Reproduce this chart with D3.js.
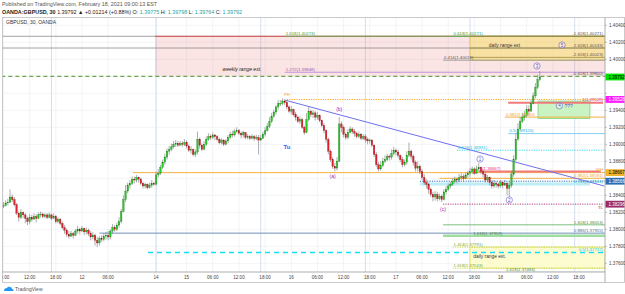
<!DOCTYPE html>
<html>
<head>
<meta charset="utf-8">
<script src="https://d3js.org/d3.v7.min.js"></script>
<style>
body { margin:0; background:#fff; }
svg text { font-family: "Liberation Sans", Arial, sans-serif; }
</style>
</head>
<body>
<script>
// ---- chart values ----
var published = "Published on TradingView.com, February 18, 2021 09:00:13 EST";
var symbolLine = ["OANDA:GBPUSD, 30 ", "1.39792 \u25B2 +0.01214 (+0.88%) ", "O:", " 1.39775 ", "H:", " 1.39798 ", "L:", " 1.39764 ", "C:", " 1.39792"];
var legend = "GBPUSD, 30, OANDA";

var firstOpen = 1.3827;
var closes = [1.3828,1.3831,1.3832,1.3838,1.3835,1.3829,1.3819,1.3814,1.3820,1.3817,
1.3813,1.3809,1.3814,1.3812,1.3815,1.3813,1.3817,1.3818,1.3815,1.3817,
1.3814,1.3817,1.3813,1.3815,1.3809,1.3812,1.3807,1.3802,1.3799,1.3794,
1.3792,1.3795,1.3793,1.3798,1.3800,1.3798,1.3801,1.3797,1.3799,1.3795,
1.3791,1.3793,1.3787,1.3784,1.3789,1.3788,1.3792,1.3793,1.3791,1.3798,
1.3802,1.3800,1.3805,1.3809,1.3821,1.3835,1.3845,1.3852,1.3854,1.3859,
1.3858,1.3861,1.3859,1.3854,1.3851,1.3853,1.3849,1.3852,1.3854,1.3853,
1.3864,1.3866,1.3873,1.3879,1.3885,1.3892,1.3894,1.3897,1.3900,1.3901,
1.3899,1.3901,1.3900,1.3902,1.3898,1.3893,1.3894,1.3888,1.3891,1.3906,
1.3899,1.3894,1.3900,1.3906,1.3909,1.3908,1.3911,1.3909,1.3906,1.3902,
1.3905,1.3900,1.3904,1.3908,1.3912,1.3911,1.3915,1.3916,1.3913,1.3911,
1.3914,1.3908,1.3909,1.3907,1.3909,1.3907,1.3908,1.3905,1.3907,1.3912,
1.3916,1.3921,1.3927,1.3933,1.3938,1.3944,1.3948,1.3948,1.3951,1.3949,
1.3944,1.3939,1.3941,1.3935,1.3932,1.3927,1.3929,1.3920,1.3914,1.3929,
1.3939,1.3935,1.3937,1.3932,1.3934,1.3928,1.3922,1.3916,1.3906,1.3892,
1.3882,1.3874,1.3872,1.3880,1.3924,1.3920,1.3912,1.3908,1.3914,1.3918,
1.3915,1.3913,1.3909,1.3912,1.3907,1.3909,1.3906,1.3904,1.3905,1.3899,
1.3888,1.3876,1.3871,1.3875,1.3880,1.3882,1.3886,1.3885,1.3889,1.3893,
1.3891,1.3887,1.3882,1.3876,1.3879,1.3887,1.3892,1.3886,1.3879,1.3872,
1.3874,1.3868,1.3861,1.3855,1.3853,1.3847,1.3841,1.3838,1.3841,1.3836,
1.3839,1.3835,1.3844,1.3847,1.3851,1.3853,1.3856,1.3859,1.3858,1.3861,
1.3862,1.3860,1.3864,1.3866,1.3868,1.3871,1.3866,1.3871,1.3873,1.3868,
1.3865,1.3858,1.3861,1.3855,1.3851,1.3854,1.3853,1.3851,1.3855,1.3852,
1.3854,1.3848,1.3852,1.3865,1.3882,1.3906,1.3918,1.3927,1.3932,1.3934,
1.3941,1.3939,1.3948,1.3957,1.3967,1.3976,1.39792];
var highs = [1.3832,1.3834,1.3836,1.3847,1.3841,1.3838,1.3831,1.3821,1.3824,1.3821,
1.3819,1.3815,1.3818,1.3817,1.3819,1.3818,1.3820,1.3821,1.3820,1.3819,
1.3819,1.3820,1.3818,1.3819,1.3817,1.3814,1.3813,1.3809,1.3805,1.3801,
1.3798,1.3798,1.3797,1.3800,1.3804,1.3802,1.3804,1.3802,1.3802,1.3801,
1.3798,1.3797,1.3795,1.3791,1.3792,1.3793,1.3795,1.3797,1.3798,1.3800,
1.3806,1.3805,1.3808,1.3814,1.3824,1.3840,1.3852,1.3855,1.3858,1.3862,
1.3862,1.3864,1.3862,1.3861,1.3856,1.3855,1.3854,1.3855,1.3858,1.3856,
1.3868,1.3871,1.3876,1.3882,1.3889,1.3895,1.3898,1.3901,1.3904,1.3905,
1.3904,1.3904,1.3904,1.3906,1.3905,1.3900,1.3898,1.3895,1.3894,1.3915,
1.3908,1.3901,1.3904,1.3909,1.3913,1.3912,1.3914,1.3912,1.3911,1.3908,
1.3907,1.3906,1.3906,1.3911,1.3915,1.3916,1.3918,1.3920,1.3918,1.3915,
1.3916,1.3914,1.3912,1.3911,1.3912,1.3911,1.3911,1.3911,1.3911,1.3915,
1.3920,1.3925,1.3932,1.3937,1.3941,1.3946,1.3952,1.3952,1.3954,1.3953,
1.3952,1.3946,1.3945,1.3942,1.3938,1.3934,1.3933,1.3931,1.3922,1.3937,
1.3944,1.3941,1.3940,1.3939,1.3938,1.3935,1.3929,1.3925,1.3918,1.3908,
1.3894,1.3885,1.3878,1.3885,1.3932,1.3927,1.3922,1.3914,1.3918,1.3921,
1.3920,1.3918,1.3915,1.3915,1.3913,1.3912,1.3912,1.3908,1.3907,1.3906,
1.3900,1.3891,1.3879,1.3880,1.3884,1.3887,1.3889,1.3888,1.3894,1.3897,
1.3895,1.3894,1.3888,1.3885,1.3882,1.3892,1.3902,1.3894,1.3888,1.3881,
1.3880,1.3876,1.3871,1.3865,1.3859,1.3855,1.3849,1.3844,1.3845,1.3844,
1.3842,1.3841,1.3847,1.3851,1.3854,1.3856,1.3860,1.3862,1.3861,1.3865,
1.3866,1.3865,1.3867,1.3869,1.3872,1.3874,1.3873,1.3875,1.3878,1.3874,
1.3871,1.3867,1.3864,1.3862,1.3858,1.3858,1.3856,1.3855,1.3858,1.3856,
1.3858,1.3855,1.3856,1.3868,1.3887,1.3913,1.3925,1.3932,1.3937,1.3939,
1.3946,1.3946,1.3953,1.3961,1.3972,1.3982,1.3986];
var lows = [1.3825,1.3827,1.3828,1.3831,1.3832,1.3827,1.3817,1.3809,1.3812,1.3813,
1.3807,1.3805,1.3806,1.3809,1.3811,1.3808,1.3812,1.3814,1.3813,1.3813,
1.3812,1.3813,1.3811,1.3812,1.3807,1.3807,1.3805,1.3800,1.3795,1.3791,
1.3789,1.3791,1.3789,1.3792,1.3795,1.3794,1.3797,1.3793,1.3794,1.3792,
1.3787,1.3788,1.3781,1.3779,1.3781,1.3785,1.3786,1.3788,1.3787,1.3788,
1.3795,1.3797,1.3798,1.3802,1.3807,1.3820,1.3832,1.3842,1.3848,1.3852,
1.3854,1.3855,1.3855,1.3852,1.3848,1.3848,1.3847,1.3848,1.3849,1.3851,
1.3852,1.3861,1.3864,1.3871,1.3876,1.3882,1.3888,1.3892,1.3895,1.3897,
1.3897,1.3898,1.3897,1.3898,1.3895,1.3891,1.3889,1.3886,1.3885,1.3888,
1.3895,1.3892,1.3893,1.3898,1.3904,1.3905,1.3906,1.3905,1.3904,1.3900,
1.3900,1.3898,1.3899,1.3901,1.3906,1.3908,1.3909,1.3913,1.3911,1.3907,
1.3908,1.3906,1.3906,1.3905,1.3906,1.3904,1.3905,1.3888,1.3904,1.3906,
1.3909,1.3915,1.3919,1.3925,1.3931,1.3935,1.3941,1.3945,1.3946,1.3946,
1.3941,1.3937,1.3935,1.3933,1.3928,1.3925,1.3924,1.3918,1.3911,1.3913,
1.3927,1.3932,1.3931,1.3928,1.3929,1.3926,1.3920,1.3913,1.3902,1.3888,
1.3879,1.3871,1.3868,1.3869,1.3879,1.3914,1.3908,1.3905,1.3906,1.3913,
1.3912,1.3909,1.3907,1.3907,1.3905,1.3905,1.3902,1.3900,1.3901,1.3897,
1.3885,1.3873,1.3868,1.3869,1.3873,1.3878,1.3880,1.3881,1.3882,1.3887,
1.3887,1.3884,1.3879,1.3873,1.3874,1.3876,1.3885,1.3882,1.3875,1.3868,
1.3868,1.3865,1.3858,1.3852,1.3848,1.3842,1.3838,1.3833,1.3834,1.3833,
1.3834,1.3832,1.3834,1.3841,1.3845,1.3848,1.3851,1.3854,1.3854,1.3855,
1.3858,1.3856,1.3859,1.3861,1.3862,1.3865,1.3864,1.3865,1.3868,1.3865,
1.3861,1.3855,1.3855,1.3852,1.3848,1.3849,1.3849,1.3848,1.3849,1.3848,
1.3851,1.3840,1.3838,1.3849,1.3862,1.3880,1.3904,1.3915,1.3925,1.3928,
1.3932,1.3934,1.3938,1.3947,1.3954,1.3965,1.3974];

// bar index -> time label
var timeTicks = [[0,"06:00"],[12,"12:00"],[24,"18:00"],[36,"12"],[48,"06:00"],[70,"14"],[84,"15"],
  [96,"06:00"],[108,"12:00"],[120,"18:00"],[132,"16"],[144,"06:00"],[156,"12:00"],[168,"18:00"],
  [180,"17"],[192,"06:00"],[204,"12:00"],[216,"18:00"],[228,"18"],[240,"06:00"],[252,"12:00"],[264,"18:00"]];
var sessionBreaks = [22, 70, 118, 166, 214, 262];
var priceTicks = [1.376,1.378,1.380,1.382,1.384,1.386,1.388,1.390,1.392,1.394,1.396,1.398,1.400,1.402,1.404];

// drawn levels: price, from bar, to bar, kind, labels
var levels = [
  {p:1.40271, from:-1, to:276, kind:"gray"},
  {p:1.40133, from:-1, to:276, kind:"gray"},
  {p:1.40271, from:69.5, to:276, kind:"red"},
  {p:1.40271, from:129, to:276, kind:"fibGreen", left:"1.618(1.40273)"},
  {p:1.39848, from:129, to:276, kind:"fibPurple", left:"1.272(1.39848)"},
  {p:1.39800, from:-1, to:276, kind:"greenDash", right:"-0.618(1.39800)"},
  {p:1.40271, from:214, to:276, kind:"olive", right:"-1.618(1.40271)"},
  {p:1.40271, from:206, to:214, kind:"fibGreen", left:"0.618(1.40271)"},
  {p:1.40133, from:214, to:276, kind:"olive", right:"2.618(1.40133)"},
  {p:1.40023, from:214, to:276, kind:"olive", right:"-2.618(1.40023)"},
  {p:1.39990, from:201.6, to:276, kind:"gray", left:"0.414(1.40013)"},
  {p:1.39528, from:130, to:276, kind:"orangeDot"},
  {p:1.39490, from:231.5, to:275, kind:"redThick", right:"1(1.39528)"},
  {p:1.39320, from:230, to:276, kind:"orange", left:"0.382(1.39320)"},
  {p:1.39126, from:231.5, to:276, kind:"cyan", left:"0.5(1.39126)"},
  {p:1.38931, from:208, to:276, kind:"cyanDot", left:"0.618(1.38931)"},
  {p:1.38667, from:59.4, to:276, kind:"orange", right:"WH"},
  {p:1.38680, from:218, to:274, kind:"redThick", left:"1(1.38667)"},
  {p:1.38600, from:200, to:276, kind:"orange", right:"0.382(1.38591)"},
  {p:1.38566, from:191, to:276, kind:"blueDot"},
  {p:1.38534, from:191, to:269, kind:"cyanBand", right:"0.786(1.38534)"},
  {p:1.38296, from:201.6, to:275, kind:"purpleDot", right:"TL"},
  {p:1.38053, from:201.6, to:276, kind:"green", right:"1.618(1.38053)"},
  {p:1.37955, from:44, to:276, kind:"steel", right:"0.886(1.37955)"},
  {p:1.37925, from:201.6, to:276, kind:"greenBand", left:"1.618(1.37959)", at:215},
  {p:1.37791, from:206, to:276, kind:"yellowDot", left:"1.414(1.37791)"},
  {p:1.37727, from:66.3, to:276, kind:"cyanDash", right:"0.5(1.37727)"},
  {p:1.37543, from:206, to:276, kind:"yellowDot", left:"1.618(1.37543)"},
  {p:1.37494, from:230, to:276, kind:"green", left:"1.618(1.37494)"}
];

var boxes = [
  {top:1.40271, bottom:1.39800, from:69.5, to:276, kind:"weekly"},
  {top:1.40271, bottom:1.39990, from:214, to:276, kind:"daily"},
  {top:1.39509, bottom:1.39304, from:245.2, to:269, kind:"wave4"},
  {top:1.37791, bottom:1.37543, from:214, to:276, kind:"dailyLow"}
];

var trend = {i0:129.1, p0:1.3952, i1:275.5, p1:1.3851};

var notes = [
  {t:"weekly range ext.", i:109.4, p:1.39886, kind:"boxItalic"},
  {t:"daily range ext", i:229.8, p:1.40168, kind:"box"},
  {t:"daily range ext.", i:223, p:1.37686, kind:"box"},
  {t:"PH", i:130, p:1.39585, kind:"ph"},
  {t:"Tu", i:130, p:1.38968, kind:"tu"},
  {t:"(a)", i:151, p:1.38627, kind:"wave"},
  {t:"(b)", i:154, p:1.39415, kind:"wave"},
  {t:"(c)", i:201.6, p:1.38239, kind:"wave"},
  {t:"???", i:257.3, p:1.39454, kind:"q"}
];
var waveCircles = [
  {n:"1", i:218.6, p:1.38827}, {n:"2", i:232, p:1.38345}, {n:"3", i:244.7, p:1.39921},
  {n:"4", i:255, p:1.39454}, {n:"5", i:256.2, p:1.40168}
];

var axisMarks = [
  {p:1.39792, t:"1.39792", kind:"last"},
  {p:1.39528, t:"1.39528", kind:"magenta"},
  {p:1.38667, t:"1.38667", kind:"gold"},
  {p:1.38566, t:"1.38566", kind:"blue"},
  {p:1.38296, t:"1.38296", kind:"purple"}
];

// ---- styles ----
var lineStyle = {
  gray:{s:"#8c8c8c", w:0.8}, red:{s:"#d9534f", w:1},
  fibGreen:{s:"#5cb85c", w:0.8, t:"#3c9a3c"}, fibPurple:{s:"#b07fd8", w:0.8, t:"#9b59b6"},
  greenDash:{s:"#6aa84f", w:1.3, d:"4,3", t:"#555"}, olive:{s:"#9c8c3a", w:0.8, t:"#555"},
  orangeDot:{s:"#f5a623", w:1, d:"1.2,1.2"}, redThick:{s:"#f07a7a", w:2, t:"#e8307a"},
  orange:{s:"#f5b041", w:1, t:"#f0a030"}, cyan:{s:"#7fd0f0", w:1, t:"#2fb0e0"},
  cyanDot:{s:"#30dbee", w:1, d:"1.2,1.2", t:"#22c4dd"}, blueDot:{s:"#2e6fb5", w:1, d:"1.2,1.2"},
  cyanBand:{s:"#bdeef6", w:3, t:"#2ab0c8"}, purpleDot:{s:"#b0407a", w:1, d:"1.2,1.2", t:"#8a3060", below:true},
  green:{s:"#7cbf7c", w:1, t:"#4a8a4a"}, steel:{s:"#7090b8", w:1, t:"#5070a0"},
  greenBand:{s:"#9fdc9f", w:2.5, t:"#3a8a3a"}, yellowDot:{s:"#c8d840", w:1, d:"1.2,1.2", t:"#6aaa3a"},
  cyanDash:{s:"#10e0f5", w:1.5, d:"5,4", t:"#20c8e0"}
};
var boxStyle = {
  weekly:{f:"rgba(236,120,120,0.2)", s:"none"},
  daily:{f:"rgba(248,222,110,0.55)", s:"#d8c660"},
  wave4:{f:"#c9f3c2", s:"#7ed67e"},
  dailyLow:{f:"#fdfbd0", s:"#e3e37a"}
};
var markStyle = {
  last:{f:"#00e000", t:"#000"}, magenta:{f:"#ff1aff", t:"#fff"}, gold:{f:"#f2b52a", t:"#000"},
  blue:{f:"#2f6db3", t:"#fff"}, purple:{f:"#9a2d68", t:"#fff"}
};

var W = 625, H = 294;
var plotL = 2.5, plotR = 605, plotT = 17.5, plotB = 272;

var svg = d3.select("body").append("svg")
  .attr("width", W).attr("height", H)
  .style("display", "block");

var x = d3.scaleLinear().domain([0, 1]).range([3.5, 5.68]);
var y = d3.scaleLinear().domain([1.37498, 1.40492]).range([plotB, plotT]);

svg.append("clipPath").attr("id", "plot")
  .append("rect").attr("x", plotL).attr("y", plotT).attr("width", plotR - plotL).attr("height", plotB - plotT);

// header
svg.append("text").attr("x", 2).attr("y", 6).attr("font-size", 5.4).attr("fill", "#555").text(published);
var hdr = svg.append("text").attr("x", 2).attr("y", 13.5).attr("font-size", 5.4);
symbolLine.forEach(function(s, k) {
  var col = k < 2 ? "#222" : (k % 2 == 0 ? "#222" : "#25a5a5");
  hdr.append("tspan").attr("fill", col).attr("font-weight", k == 0 ? "bold" : "normal").text(s);
});

var g = svg.append("g").attr("clip-path", "url(#plot)");

// grid
g.selectAll(".hg").data(priceTicks).enter().append("line")
  .attr("x1", plotL).attr("x2", plotR)
  .attr("y1", function(d){ return y(d); }).attr("y2", function(d){ return y(d); })
  .attr("stroke", "#edf1f6").attr("stroke-width", 0.8);
g.selectAll(".vg").data(timeTicks).enter().append("line")
  .attr("x1", function(d){ return x(d[0]); }).attr("x2", function(d){ return x(d[0]); })
  .attr("y1", plotT).attr("y2", plotB)
  .attr("stroke", "#edf1f6").attr("stroke-width", 0.8);
g.selectAll(".sb").data(sessionBreaks).enter().append("line")
  .attr("x1", function(d){ return x(d); }).attr("x2", function(d){ return x(d); })
  .attr("y1", plotT).attr("y2", plotB)
  .attr("stroke", "#c9d7ea").attr("stroke-width", 0.8);

// boxes
g.selectAll(".box").data(boxes).enter().append("rect")
  .attr("x", function(d){ return x(d.from); })
  .attr("y", function(d){ return y(d.top); })
  .attr("width", function(d){ return x(d.to) - x(d.from); })
  .attr("height", function(d){ return y(d.bottom) - y(d.top); })
  .attr("fill", function(d){ return boxStyle[d.kind].f; })
  .attr("stroke", function(d){ return boxStyle[d.kind].s; })
  .attr("stroke-width", 0.8);

// level lines
g.selectAll(".lvl").data(levels).enter().append("line")
  .attr("x1", function(d){ return x(d.from); }).attr("x2", function(d){ return x(d.to); })
  .attr("y1", function(d){ return y(d.p); }).attr("y2", function(d){ return y(d.p); })
  .attr("stroke", function(d){ return lineStyle[d.kind].s; })
  .attr("stroke-width", function(d){ return lineStyle[d.kind].w; })
  .attr("stroke-dasharray", function(d){ return lineStyle[d.kind].d || null; });

// trend line
g.append("line")
  .attr("x1", x(trend.i0)).attr("y1", y(trend.p0))
  .attr("x2", x(trend.i1)).attr("y2", y(trend.p1))
  .attr("stroke", "#6f6ff0").attr("stroke-width", 1);

// candles
var bars = closes.map(function(c, i) {
  return {i:i, o: i == 0 ? firstOpen : closes[i-1], h:highs[i], l:lows[i], c:c};
});
var cg = g.selectAll(".bar").data(bars).enter().append("g");
cg.append("line")
  .attr("x1", function(d){ return x(d.i); }).attr("x2", function(d){ return x(d.i); })
  .attr("y1", function(d){ return y(d.h); }).attr("y2", function(d){ return y(d.l); })
  .attr("stroke", "#777").attr("stroke-width", 0.6);
cg.append("rect")
  .attr("x", function(d){ return x(d.i) - 0.75; })
  .attr("width", 1.5)
  .attr("y", function(d){ return y(Math.max(d.o, d.c)); })
  .attr("height", function(d){ return Math.max(0.6, Math.abs(y(d.o) - y(d.c))); })
  .attr("fill", function(d){ return d.c >= d.o ? "#22cc22" : "#e0232e"; })
  .attr("stroke", function(d){ return d.c >= d.o ? "#157a15" : "#8c1219"; })
  .attr("stroke-width", 0.3);

// level labels
var lblFont = 4.3;
levels.forEach(function(d) {
  var st = lineStyle[d.kind];
  var yy = st.below ? y(d.p) + 5 : y(d.p) - 1.2;
  if (d.left) {
    g.append("text").attr("x", x(d.at || d.from) + 1).attr("y", yy)
      .attr("font-size", lblFont).attr("fill", st.t || "#555").text(d.left);
  }
  if (d.right) {
    g.append("text").attr("x", plotR - 2).attr("y", yy).attr("text-anchor", "end")
      .attr("font-size", lblFont).attr("fill", st.t || "#555").text(d.right);
  }
});

// notes
var noteStyle = {
  boxItalic:{c:"#222", s:5, it:true, a:"middle"}, box:{c:"#333", s:4.8, a:"middle"},
  ph:{c:"#f0a030", s:4.2, a:"middle"}, tu:{c:"#2962ff", s:5.8, b:true, a:"middle"},
  wave:{c:"#9c27b0", s:5, a:"middle"}, q:{c:"#5a4fcf", s:5, a:"start"}
};
g.selectAll(".note").data(notes).enter().append("text")
  .attr("x", function(d){ return x(d.i); })
  .attr("y", function(d){ return y(d.p) + 1.8; })
  .attr("text-anchor", function(d){ return noteStyle[d.kind].a; })
  .attr("font-size", function(d){ return noteStyle[d.kind].s; })
  .attr("font-style", function(d){ return noteStyle[d.kind].it ? "italic" : "normal"; })
  .attr("font-weight", function(d){ return noteStyle[d.kind].b ? "bold" : "normal"; })
  .attr("fill", function(d){ return noteStyle[d.kind].c; })
  .text(function(d){ return d.t; });

var wc = g.selectAll(".wc").data(waveCircles).enter().append("g");
wc.append("circle")
  .attr("cx", function(d){ return x(d.i); }).attr("cy", function(d){ return y(d.p); })
  .attr("r", 3.2).attr("fill", "rgba(255,255,255,0.4)").attr("stroke", "#6a5acd").attr("stroke-width", 0.6);
wc.append("text")
  .attr("x", function(d){ return x(d.i); }).attr("y", function(d){ return y(d.p) + 1.6; })
  .attr("text-anchor", "middle").attr("font-size", 4.5).attr("fill", "#5a4fcf")
  .text(function(d){ return d.n; });

// legend
svg.append("text").attr("x", 6).attr("y", 24).attr("font-size", 5).attr("fill", "#333").text(legend);

// frame & axes
svg.append("rect").attr("x", plotL).attr("y", plotT).attr("width", W - plotL - 0.5).attr("height", 265)
  .attr("fill", "none").attr("stroke", "#bdbdbd").attr("stroke-width", 0.8);
svg.append("line").attr("x1", plotL).attr("x2", plotR).attr("y1", plotB).attr("y2", plotB)
  .attr("stroke", "#9a9a9a").attr("stroke-width", 0.8);
svg.append("line").attr("x1", plotR).attr("x2", plotR).attr("y1", plotT).attr("y2", 282.5)
  .attr("stroke", "#9a9a9a").attr("stroke-width", 0.8);

svg.append("clipPath").attr("id", "taxis").append("rect")
  .attr("x", plotL).attr("y", plotB).attr("width", plotR - plotL).attr("height", 11);
var tl = svg.append("g").attr("clip-path", "url(#taxis)");
tl.selectAll("text").data(timeTicks).enter().append("text")
  .attr("x", function(d){ return x(d[0]); }).attr("y", 279)
  .attr("text-anchor", "middle").attr("font-size", 4.6).attr("fill", "#444")
  .text(function(d){ return d[1]; });

// price axis: hide grid labels hidden behind the coloured marks
var freeTicks = priceTicks.filter(function(t) {
  return axisMarks.every(function(m){ return Math.abs(y(t) - y(m.p)) > 6.5; });
});
svg.selectAll(".pt").data(freeTicks).enter().append("text")
  .attr("x", 609).attr("y", function(d){ return y(d) + 1.6; })
  .attr("font-size", 4.6).attr("fill", "#444")
  .text(function(d){ return d.toFixed(5); });
svg.selectAll(".ptk").data(priceTicks).enter().append("line")
  .attr("x1", plotR).attr("x2", plotR + 2)
  .attr("y1", function(d){ return y(d); }).attr("y2", function(d){ return y(d); })
  .attr("stroke", "#9a9a9a").attr("stroke-width", 0.6);

var am = svg.selectAll(".am").data(axisMarks).enter().append("g");
am.append("rect")
  .attr("x", plotR + 0.5).attr("y", function(d){ return y(d.p) - 3.4; })
  .attr("width", 19).attr("height", 6.8)
  .attr("fill", function(d){ return markStyle[d.kind].f; });
am.append("text")
  .attr("x", 608.5).attr("y", function(d){ return y(d.p) + 1.6; })
  .attr("font-size", 4.5).attr("fill", function(d){ return markStyle[d.kind].t; })
  .text(function(d){ return d.t; });

// footer logo
var logo = svg.append("g").attr("transform", "translate(4,286)");
logo.append("path").attr("d", "M0,5 Q0,2 3,2 Q4,0 6,1 Q8,1 8,3 Q10,3 9.5,5 Z").attr("fill", "#2196f3");
svg.append("text").attr("x", 15).attr("y", 291).attr("font-size", 5).attr("fill", "#555").text("TradingView");
</script>
</body>
</html>
